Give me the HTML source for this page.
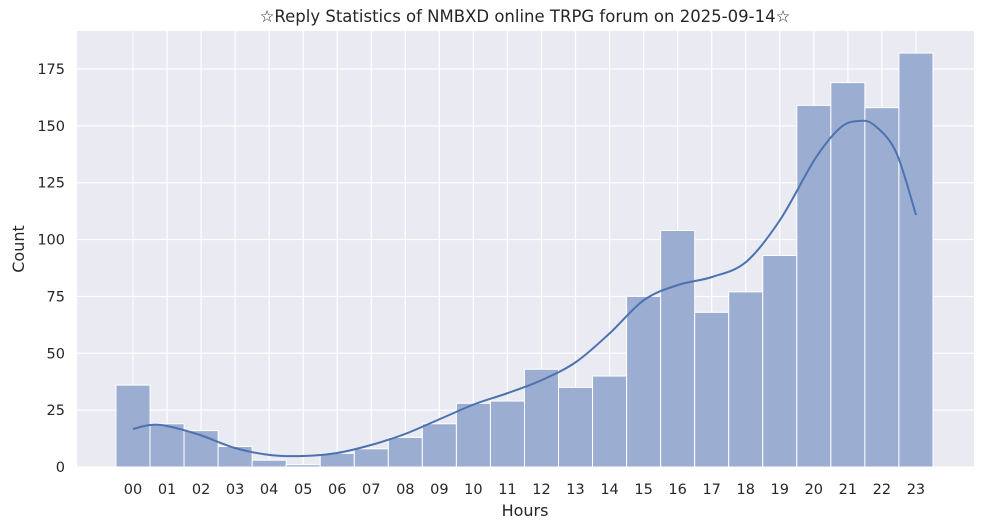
<!DOCTYPE html>
<html><head><style>body{margin:0;background:#fff}svg{display:block}text{font-family:"DejaVu Sans",sans-serif;fill:#262626}</style></head>
<body>
<svg width="984" height="529" viewBox="0 0 984 529" xmlns="http://www.w3.org/2000/svg">
<rect x="77" y="31" width="897" height="436" fill="#eaeaf2"/>
<g id="g" stroke="#fff" stroke-width="1.2"></g>
<g id="b"></g>
<path id="k" fill="none" stroke="#4c72b0" stroke-width="2"/>
<g id="t" font-size="14.5"></g>
<text x="525" y="22" text-anchor="middle" font-size="16.5">☆Reply Statistics of NMBXD online TRPG forum on 2025-09-14☆</text>
<text x="525" y="516" text-anchor="middle" font-size="16">Hours</text>
<text x="24" y="249" text-anchor="middle" font-size="16" transform="rotate(-90 24 249)">Count</text>
</svg>
<script>
const v=[36,19,16,9,3,1,6,8,13,19,28,29,43,35,40,75,104,68,77,93,159,169,158,182];
const Y=c=>467-c*2.2743, X=i=>133+i*34.04;
let g='',b='',t='';
for(let c=0;c<=175;c+=25){g+=`<line x1="77" x2="974" y1="${Y(c)}" y2="${Y(c)}"/>`;t+=`<text x="65" y="${Y(c)+5}" text-anchor="end">${c}</text>`;}
for(let i=0;i<24;i++){g+=`<line y1="31" y2="467" x1="${X(i)}" x2="${X(i)}"/>`;b+=`<rect x="${X(i)-17}" y="${Y(v[i])}" width="34.04" height="${v[i]*2.2743}" fill="#9badd1" stroke="#fff" stroke-width="1"/>`;t+=`<text x="${X(i)}" y="494" text-anchor="middle">${String(i).padStart(2,'0')}</text>`;}
document.getElementById('g').innerHTML=g;document.getElementById('b').innerHTML=b;document.getElementById('t').innerHTML=t;
const p=[[133,429],[150,425],[167,426],[200,435],[235,448],[270,455],[303,456],[337,453],[371,445],[405,434],[440,419],[475,404],[508,393],[542,380],[576,362],[610,333],[644,300],[678,285],[712,277],[746,262],[780,220],[815,159],[840,128],[858,121],[874,125],[896,152],[916,215]];
let d='M'+p[0];for(let i=1;i<p.length;i++){const p0=p[i-2]||p[i-1],p1=p[i-1],p2=p[i],p3=p[i+1]||p2;d+=`C${p1[0]+(p2[0]-p0[0])/6},${p1[1]+(p2[1]-p0[1])/6} ${p2[0]-(p3[0]-p1[0])/6},${p2[1]-(p3[1]-p1[1])/6} ${p2}`;}
document.getElementById('k').setAttribute('d',d);
</script>
</body></html>
